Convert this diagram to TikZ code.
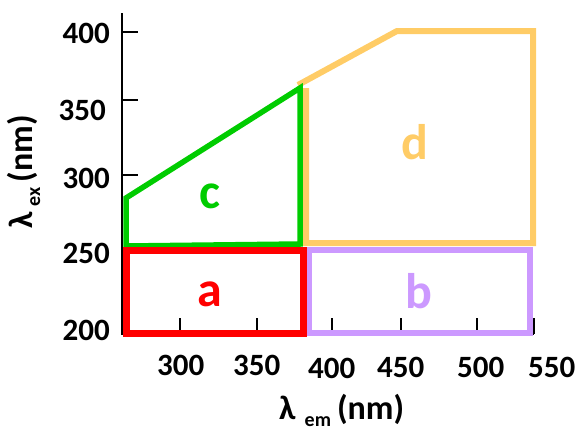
\documentclass[tikz,border=0pt]{standalone}
\usepackage{fontspec}
\setmainfont{Carlito}
\definecolor{cRed}{RGB}{255,0,0}
\definecolor{cGreen}{RGB}{0,204,0}
\definecolor{cPurple}{RGB}{204,153,255}
\definecolor{cYellow}{RGB}{255,204,102}
\tikzset{
  axisline/.style={line width=2pt, black},
  tickline/.style={line width=2pt, black},
  ticklab/.style={font=\fontsize{31}{31}\selectfont\bfseries, inner sep=0pt},
  regionlab/.style={font=\fontsize{50}{50}\selectfont\bfseries, inner sep=0pt, anchor=base},
  axtitle/.style={font=\fontsize{34}{34}\selectfont\bfseries, inner sep=0pt},
  region/.style={line width=#1pt, line join=miter},
}
\newcommand{\subtxt}[2]{\raisebox{-#1pt}{\fontsize{20}{20}\selectfont #2}}
\begin{document}
\begin{tikzpicture}[x=1pt,y=-1pt]
\useasboundingbox (0,0) rectangle (578,432);
% axes
\coordinate (yt) at (122,13);
\coordinate (o) at (122,334);
\coordinate (xe) at (534,334);
\draw[axisline] (yt) -- (o) -- (xe);
% y ticks
\foreach \yy in {32,100,175} \draw[tickline] (122,\yy) -- (138,\yy);
% x ticks
\foreach \xx in {180,257,332,401,477,534} \draw[tickline] (\xx,334) -- (\xx,318);
% y labels
\node[ticklab, anchor=base east] (y400) at (110,43) {400};
\node[ticklab, anchor=base east] (y350) at (106,120) {350};
\node[ticklab, anchor=base east] (y300) at (110,188) {300};
\node[ticklab, anchor=base east] (y250) at (110,263) {250};
\node[ticklab, anchor=base east] (y200) at (110,340) {200};
% x labels
\node[ticklab, anchor=base west] (x300) at (157,375) {300};
\node[ticklab, anchor=base west] (x350) at (233,375) {350};
\node[ticklab, anchor=base west] (x400) at (308,378) {400};
\node[ticklab, anchor=base west] (x450) at (377,377) {450};
\node[ticklab, anchor=base west] (x500) at (457,377) {500};
\node[ticklab, anchor=base west] (x550) at (528,377) {550};
% axis titles
\node[axtitle, anchor=base west, rotate=90] (ylab) at (32,229)
  {λ\hspace{6pt}\subtxt{8}{ex}\hspace{5pt}(nm)};
\node[axtitle, anchor=base west] (xlab) at (279,419)
  {λ\hspace{9pt}\subtxt{7}{em}\hspace{6pt}(nm)};
% region d (yellow)
\draw[region=6, cYellow] (306,88) -- (306,243) -- (533,243) -- (533,31) -- (397,31) -- (298,85);
% region c (green)
\draw[region=5.5, cGreen] (126,246) -- (126,198) -- (300,88) -- (300,244) -- cycle;
% region b (purple)
\draw[region=6, cPurple] (309,250) rectangle (530,333);
% region a (red)
\draw[region=7, cRed] (126,250) rectangle (303,333);
% region labels
\node[regionlab, text=cRed] (la) at (210,306) {a};
\node[regionlab, text=cPurple] (lb) at (419,308) {b};
\node[regionlab, text=cGreen] (lc) at (210,208) {c};
\node[regionlab, text=cYellow] (ld) at (415,159) {d};
\end{tikzpicture}
\end{document}
